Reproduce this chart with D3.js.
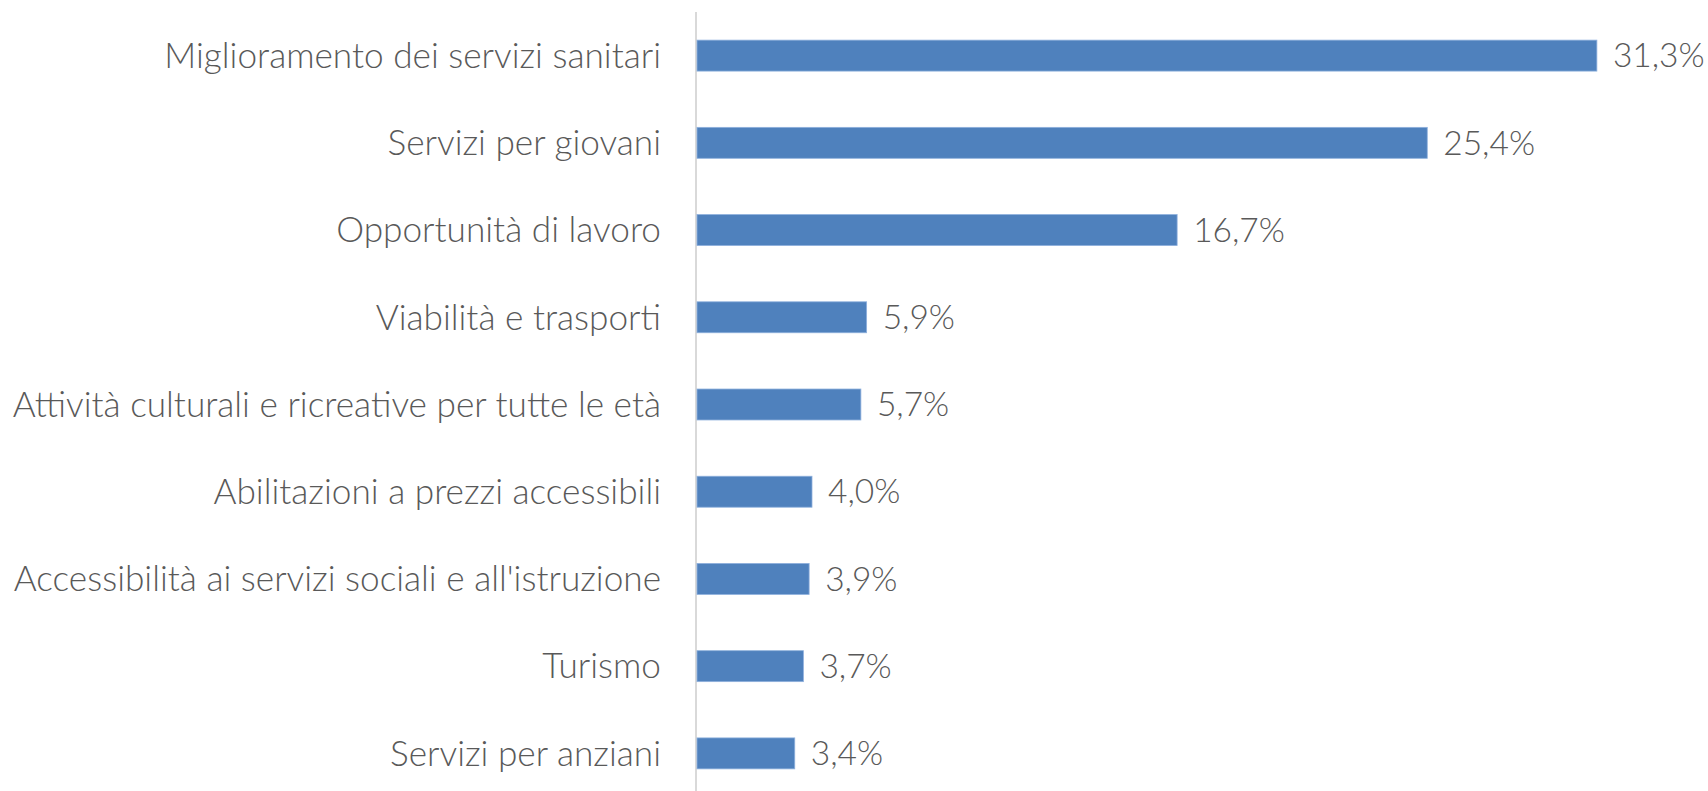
<!DOCTYPE html>
<html>
<head>
<meta charset="utf-8">
<script src="https://cdn.jsdelivr.net/npm/d3@7"></script>
<style>
  body { margin: 0; background: #fff; }
  text { font-family: Lato, "Open Sans", sans-serif; font-weight: 300; fill: #595959; }
</style>
</head>
<body>
<div id="chart"></div>
<script>
// data
var categories = [
  "Miglioramento dei servizi sanitari",
  "Servizi per giovani",
  "Opportunità di lavoro",
  "Viabilità e trasporti",
  "Attività culturali e ricreative per tutte le età",
  "Abilitazioni a prezzi accessibili",
  "Accessibilità ai servizi sociali e all'istruzione",
  "Turismo",
  "Servizi per anziani"
];
var values = [31.3, 25.4, 16.7, 5.9, 5.7, 4.0, 3.9, 3.7, 3.4];
var valueLabels = ["31,3%", "25,4%", "16,7%", "5,9%", "5,7%", "4,0%", "3,9%", "3,7%", "3,4%"];

var svgWidth = 1708;
var svgHeight = 791;

var svg = d3.select("#chart")
  .append("svg")
  .attr("width", svgWidth)
  .attr("height", svgHeight);

var x0 = 697;

var xScale = d3.scaleLinear()
  .domain([0, 10])
  .range([x0, x0 + 287.5]);

var yScale = d3.scaleBand()
  .domain(categories)
  .range([12, 797])
  .paddingInner(0.645)
  .paddingOuter(0.3225);

// vertical axis line
svg.append("line")
  .attr("x1", x0 - 1)
  .attr("x2", x0 - 1)
  .attr("y1", 12)
  .attr("y2", svgHeight)
  .attr("stroke", "#d9d9d9")
  .attr("stroke-width", 2);

// bars
svg.selectAll("rect.bar")
  .data(values)
  .enter()
  .append("rect")
  .attr("class", "bar")
  .attr("x", xScale(0))
  .attr("y", (d, i) => yScale(categories[i]))
  .attr("width", d => xScale(d) - xScale(0))
  .attr("height", yScale.bandwidth())
  .attr("fill", "#4f81bd")
  .attr("stroke", "#8eb0dc")
  .attr("stroke-width", 0.8);

// category labels
svg.selectAll("text.cat")
  .data(categories)
  .enter()
  .append("text")
  .attr("class", "cat")
  .attr("x", 661)
  .attr("y", d => yScale(d) + yScale.bandwidth() / 2)
  .attr("dy", "0.35em")
  .attr("text-anchor", "end")
  .attr("font-size", 35.2)
  .text(d => d);

// value labels
svg.selectAll("text.val")
  .data(values)
  .enter()
  .append("text")
  .attr("class", "val")
  .attr("x", d => xScale(d) + 16)
  .attr("y", (d, i) => yScale(categories[i]) + yScale.bandwidth() / 2)
  .attr("dy", "0.35em")
  .attr("font-size", 33.5)
  .text((d, i) => valueLabels[i]);
</script>
</body>
</html>
